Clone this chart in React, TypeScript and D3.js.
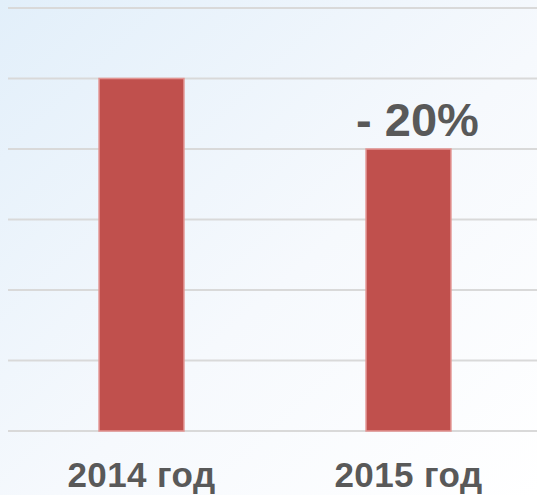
import React from "react";
import * as d3 from "d3";

const categories = ["2014 год", "2015 год"];
const values = [5, 4];
const yTicks = [0, 1, 2, 3, 4, 5, 6];
const annotation = "- 20%";

const W = 537;
const H = 495;

export default function App() {
  const x = d3.scaleBand<string>().domain(categories).range([8, 542]).paddingInner(0.682).paddingOuter(0.341);
  const y = d3.scaleLinear().domain([0, 6]).range([431, 8]);
  const font = "'Liberation Sans', Arial, sans-serif";
  return (
    <svg width={W} height={H} style={{ position: "absolute", left: 0, top: 0 }}>
      <defs>
        <linearGradient id="bg" x1="0" y1="0" x2="1" y2="1">
          <stop offset="0" stopColor="#e2effa" />
          <stop offset="0.55" stopColor="#f6f9fd" />
          <stop offset="1" stopColor="#ffffff" />
        </linearGradient>
      </defs>
      <rect x={0} y={0} width={W} height={H} fill="url(#bg)" />
      {yTicks.map((t) => (
        <line key={t} x1={8} x2={W} y1={y(t)} y2={y(t)} stroke="#d9d9d9" strokeWidth={2} />
      ))}
      {categories.map((c, i) => (
        <rect
          key={c}
          x={x(c)!}
          y={y(values[i])}
          width={x.bandwidth()}
          height={y(0) - y(values[i])}
          fill="#c0504d"
          stroke="#e39492"
          strokeWidth={1.5}
        />
      ))}
      {categories.map((c) => (
        <text
          key={c}
          x={x(c)! + x.bandwidth() / 2}
          y={487}
          textAnchor="middle"
          fontFamily={font}
          fontWeight="bold"
          fontSize={35}
          letterSpacing={0.4}
          fill="#595959"
        >
          {c}
        </text>
      ))}
      <text
        x={x(categories[1])! + x.bandwidth() / 2 + 9}
        y={y(values[1]) - 13.5}
        textAnchor="middle"
        fontFamily={font}
        fontWeight="bold"
        fontSize={47}
        fill="#595959"
      >
        {annotation}
      </text>
    </svg>
  );
}
